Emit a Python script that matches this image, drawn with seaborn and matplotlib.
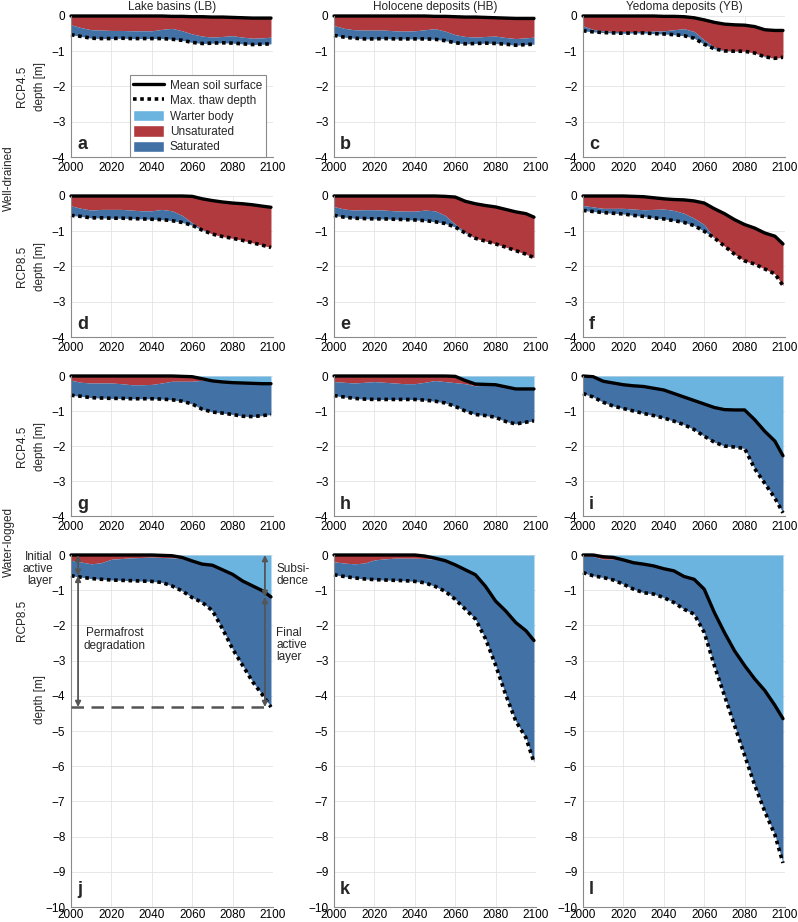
import matplotlib.pyplot as plt
import seaborn as sns
import pandas as pd
from matplotlib.lines import Line2D
from matplotlib.patches import Patch

# ---- data (depth in m) ----
years = [2000, 2005, 2010, 2015, 2020, 2025, 2030, 2035, 2040, 2045, 2050,
         2055, 2060, 2065, 2070, 2075, 2080, 2085, 2090, 2095, 2099]

column_titles = ["Lake basins (LB)", "Holocene deposits (HB)", "Yedoma deposits (YB)"]
row_labels = ["RCP4.5", "RCP8.5", "RCP4.5", "RCP8.5"]
panel_letters = ["a", "b", "c", "d", "e", "f", "g", "h", "i", "j", "k", "l"]

# well-drained, RCP4.5
surf_a = [0, 0, 0, 0, 0, 0, 0, 0, 0, 0, -0.01, -0.01, -0.02, -0.02, -0.03, -0.03, -0.04, -0.05, -0.06, -0.06, -0.06]
wt_a = [-0.25, -0.33, -0.39, -0.4, -0.41, -0.41, -0.42, -0.42, -0.42, -0.38, -0.35, -0.42, -0.51, -0.57, -0.6, -0.58, -0.56, -0.6, -0.63, -0.62, -0.6]
thaw_a = [-0.53, -0.58, -0.63, -0.64, -0.64, -0.63, -0.64, -0.64, -0.64, -0.64, -0.66, -0.69, -0.75, -0.78, -0.77, -0.76, -0.77, -0.79, -0.81, -0.8, -0.79]

surf_b = [0, 0, 0, 0, 0, 0, 0, 0, 0, 0, -0.01, -0.01, -0.02, -0.03, -0.03, -0.04, -0.05, -0.06, -0.07, -0.07, -0.07]
wt_b = [-0.27, -0.35, -0.39, -0.4, -0.4, -0.4, -0.42, -0.43, -0.42, -0.39, -0.36, -0.43, -0.53, -0.58, -0.6, -0.58, -0.57, -0.61, -0.64, -0.62, -0.6]
thaw_b = [-0.55, -0.6, -0.63, -0.65, -0.65, -0.64, -0.65, -0.65, -0.65, -0.65, -0.66, -0.7, -0.76, -0.79, -0.78, -0.77, -0.78, -0.8, -0.83, -0.81, -0.8]

surf_c = [0, 0, 0, 0, 0, 0, 0, 0, -0.01, -0.01, -0.02, -0.05, -0.11, -0.18, -0.23, -0.25, -0.26, -0.3, -0.39, -0.41, -0.41]
wt_c = [-0.28, -0.38, -0.42, -0.44, -0.44, -0.44, -0.44, -0.43, -0.42, -0.39, -0.36, -0.44, -0.68, -0.88, -0.98, -0.99, -1.0, -1.05, -1.14, -1.2, -1.17]
thaw_c = [-0.42, -0.45, -0.47, -0.48, -0.49, -0.48, -0.48, -0.5, -0.51, -0.53, -0.56, -0.63, -0.8, -0.93, -0.99, -1.0, -1.0, -1.05, -1.16, -1.2, -1.17]

# well-drained, RCP8.5
surf_d = [0, 0, 0, 0, 0, 0, 0, 0, 0, 0, 0, 0, -0.01, -0.08, -0.13, -0.17, -0.2, -0.22, -0.25, -0.29, -0.32]
wt_d = [-0.28, -0.35, -0.4, -0.38, -0.38, -0.38, -0.4, -0.42, -0.42, -0.38, -0.42, -0.55, -0.76, -0.95, -1.08, -1.15, -1.2, -1.26, -1.33, -1.4, -1.46]
thaw_d = [-0.55, -0.58, -0.62, -0.62, -0.63, -0.63, -0.64, -0.65, -0.66, -0.67, -0.7, -0.75, -0.83, -0.97, -1.08, -1.15, -1.2, -1.26, -1.33, -1.4, -1.46]

surf_e = [0, 0, 0, 0, 0, 0, 0, 0, 0, 0, 0, -0.01, -0.03, -0.15, -0.22, -0.27, -0.31, -0.38, -0.45, -0.5, -0.6]
wt_e = [-0.3, -0.37, -0.4, -0.39, -0.39, -0.4, -0.42, -0.43, -0.43, -0.4, -0.42, -0.55, -0.8, -1.02, -1.2, -1.28, -1.36, -1.45, -1.55, -1.65, -1.75]
thaw_e = [-0.55, -0.6, -0.63, -0.64, -0.65, -0.65, -0.66, -0.67, -0.68, -0.7, -0.73, -0.78, -0.88, -1.05, -1.2, -1.28, -1.36, -1.45, -1.55, -1.65, -1.75]

surf_f = [0, 0, 0, 0, 0, -0.01, -0.02, -0.05, -0.08, -0.1, -0.11, -0.14, -0.2, -0.36, -0.5, -0.67, -0.81, -0.91, -1.05, -1.14, -1.36]
wt_f = [-0.27, -0.31, -0.35, -0.35, -0.35, -0.37, -0.39, -0.38, -0.37, -0.41, -0.49, -0.63, -0.81, -1.19, -1.42, -1.65, -1.84, -1.93, -2.07, -2.21, -2.54]
thaw_f = [-0.41, -0.44, -0.47, -0.49, -0.51, -0.55, -0.58, -0.62, -0.65, -0.7, -0.75, -0.84, -1.0, -1.19, -1.42, -1.65, -1.84, -1.93, -2.07, -2.21, -2.54]

# water-logged, RCP4.5
surf_g = [0, 0, 0, 0, 0, 0, 0, 0, 0, 0, 0, -0.01, -0.02, -0.08, -0.14, -0.17, -0.19, -0.2, -0.21, -0.22, -0.22]
wt_g = [-0.12, -0.18, -0.2, -0.2, -0.2, -0.22, -0.25, -0.25, -0.24, -0.2, -0.15, -0.15, -0.15, -0.12, -0.14, -0.17, -0.19, -0.2, -0.21, -0.22, -0.22]
thaw_g = [-0.55, -0.58, -0.62, -0.63, -0.64, -0.64, -0.65, -0.65, -0.65, -0.66, -0.68, -0.72, -0.8, -0.95, -1.03, -1.06, -1.1, -1.15, -1.16, -1.13, -1.1]

surf_h = [0, 0, 0, 0, 0, 0, 0, 0, 0, 0, 0, 0, -0.01, -0.13, -0.23, -0.24, -0.25, -0.31, -0.37, -0.37, -0.37]
wt_h = [-0.16, -0.18, -0.2, -0.18, -0.16, -0.18, -0.2, -0.22, -0.22, -0.18, -0.13, -0.16, -0.19, -0.22, -0.28, -0.26, -0.25, -0.31, -0.37, -0.37, -0.37]
thaw_h = [-0.56, -0.6, -0.64, -0.66, -0.67, -0.67, -0.67, -0.67, -0.67, -0.69, -0.72, -0.77, -0.87, -1.0, -1.1, -1.13, -1.18, -1.3, -1.37, -1.32, -1.28]

surf_i = [0, -0.02, -0.15, -0.2, -0.25, -0.28, -0.3, -0.35, -0.4, -0.5, -0.6, -0.7, -0.8, -0.9, -0.96, -0.97, -0.97, -1.25, -1.58, -1.86, -2.28]
wt_i = [-0.03, -0.05, -0.15, -0.2, -0.25, -0.28, -0.3, -0.35, -0.4, -0.5, -0.6, -0.7, -0.8, -0.9, -0.96, -0.97, -0.97, -1.25, -1.58, -1.86, -2.28]
thaw_i = [-0.5, -0.6, -0.75, -0.86, -0.93, -1.0, -1.07, -1.13, -1.2, -1.29, -1.39, -1.53, -1.72, -1.89, -2.0, -2.03, -2.07, -2.65, -3.07, -3.49, -3.91]

# water-logged, RCP8.5
surf_j = [0, 0, 0, 0, 0, 0, 0, 0, 0, -0.01, -0.02, -0.07, -0.17, -0.26, -0.29, -0.42, -0.55, -0.74, -0.88, -1.02, -1.19]
wt_j = [-0.15, -0.2, -0.25, -0.22, -0.12, -0.1, -0.08, -0.07, -0.06, -0.07, -0.08, -0.1, -0.17, -0.26, -0.29, -0.42, -0.55, -0.74, -0.88, -1.02, -1.19]
thaw_j = [-0.59, -0.63, -0.67, -0.69, -0.71, -0.72, -0.73, -0.74, -0.75, -0.78, -0.88, -1.02, -1.21, -1.35, -1.58, -2.1, -2.67, -3.14, -3.61, -3.99, -4.32]

surf_k = [0, 0, 0, 0, 0, 0, 0, 0, 0, -0.03, -0.09, -0.16, -0.28, -0.42, -0.56, -0.89, -1.31, -1.59, -1.92, -2.15, -2.43]
wt_k = [-0.19, -0.23, -0.25, -0.23, -0.14, -0.11, -0.09, -0.09, -0.09, -0.1, -0.12, -0.16, -0.28, -0.42, -0.56, -0.89, -1.31, -1.59, -1.92, -2.15, -2.43]
thaw_k = [-0.56, -0.61, -0.65, -0.68, -0.7, -0.71, -0.72, -0.73, -0.75, -0.79, -0.89, -1.03, -1.26, -1.54, -1.82, -2.38, -3.13, -3.97, -4.72, -5.19, -5.89]

surf_l = [0, 0, -0.05, -0.07, -0.14, -0.22, -0.26, -0.31, -0.39, -0.45, -0.61, -0.69, -0.97, -1.63, -2.2, -2.72, -3.14, -3.52, -3.85, -4.27, -4.65]
wt_l = [-0.03, -0.04, -0.12, -0.12, -0.14, -0.22, -0.26, -0.31, -0.39, -0.45, -0.61, -0.69, -0.97, -1.63, -2.2, -2.72, -3.14, -3.52, -3.85, -4.27, -4.65]
thaw_l = [-0.5, -0.59, -0.64, -0.71, -0.83, -0.97, -1.07, -1.11, -1.21, -1.35, -1.54, -1.68, -2.2, -3.14, -3.99, -4.84, -5.69, -6.54, -7.29, -7.95, -8.75]

surfaces = [surf_a, surf_b, surf_c, surf_d, surf_e, surf_f, surf_g, surf_h, surf_i, surf_j, surf_k, surf_l]
water_tables = [wt_a, wt_b, wt_c, wt_d, wt_e, wt_f, wt_g, wt_h, wt_i, wt_j, wt_k, wt_l]
thaw_depths = [thaw_a, thaw_b, thaw_c, thaw_d, thaw_e, thaw_f, thaw_g, thaw_h, thaw_i, thaw_j, thaw_k, thaw_l]

# ---- style ----
WATER = "#6cb4e0"
UNSAT = "#b03a3e"
SAT = "#4271a6"
ARROW = "#555555"

sns.set_style("whitegrid", {"grid.color": "#e4e4e4", "axes.edgecolor": "#8a8a8a"})
plt.rcParams["font.family"] = ["Liberation Sans", "DejaVu Sans"]
plt.rcParams["font.size"] = 8.5

fig = plt.figure(figsize=(7.98, 9.22), dpi=100)
W, H = 798.0, 922.0
col_left = [71, 334, 583]
ax_w = 202
row_top = [16, 196, 376, 555]
row_h = [141, 141, 140, 352]
row_ymin = [-4, -4, -4, -10]
row_xpad = [3.5, 3.5, 3.5, 1.5]

axes = []
for r in range(4):
    for c in range(3):
        k = r * 3 + c
        ax = fig.add_axes([col_left[c] / W, 1 - (row_top[r] + row_h[r]) / H,
                           ax_w / W, row_h[r] / H])
        axes.append(ax)
        df = pd.DataFrame({"year": years, "surface": surfaces[k],
                           "water_table": water_tables[k], "thaw": thaw_depths[k]})
        waterlogged = r >= 2
        if waterlogged:
            ax.fill_between(df["year"], 0, df["surface"], color=WATER, lw=0)
        ax.fill_between(df["year"], df["surface"], df["water_table"], color=UNSAT, lw=0)
        ax.fill_between(df["year"], df["water_table"], df["thaw"], color=SAT, lw=0)
        sns.lineplot(data=df, x="year", y="surface", ax=ax, color="black",
                     lw=2.4, legend=False, clip_on=False)
        sns.lineplot(data=df, x="year", y="thaw", ax=ax, color="black",
                     lw=2.6, ls=(0, (1, 1)), legend=False, clip_on=False)

        ax.set_xlim(2000, 2100)
        ax.set_ylim(row_ymin[r], 0)
        ax.set_xticks(range(2000, 2101, 20))
        ax.set_yticks(range(row_ymin[r], 1))
        ax.set_xlabel("")
        ax.set_ylabel("")
        ax.grid(True, lw=0.6)
        for side in ["top", "right"]:
            ax.spines[side].set_visible(False)
        for side in ["left", "bottom"]:
            ax.spines[side].set_linewidth(0.8)
        ax.tick_params(axis="x", length=0, pad=row_xpad[r], labelsize=8.5, colors="black")
        ax.tick_params(axis="y", length=0, pad=4, labelsize=8.5, colors="black")
        ax.text(0.03, 0.025, panel_letters[k], transform=ax.transAxes,
                fontsize=13, fontweight="bold", va="bottom", ha="left")
        if r == 0:
            ax.set_title(column_titles[c], fontsize=8.5, pad=4)

# row labels
for r in range(3):
    yc = 1 - (row_top[r] + row_h[r] / 2) / H
    fig.text(22 / W, yc, row_labels[r], rotation=90, ha="center", va="center", fontsize=8.5)
    fig.text(40 / W, yc, "depth [m]", rotation=90, ha="center", va="center", fontsize=8.5)
fig.text(22 / W, 1 - 620 / H, row_labels[3], rotation=90, ha="center", va="center", fontsize=8.5)
fig.text(40 / W, 1 - 700 / H, "depth [m]", rotation=90, ha="center", va="center", fontsize=8.5)
fig.text(9 / W, 1 - 178 / H, "Well-drained", rotation=90, ha="center", va="center", fontsize=8.5)
fig.text(9 / W, 1 - 542 / H, "Water-logged", rotation=90, ha="center", va="center", fontsize=8.5)

# legend in panel a
handles = [Line2D([], [], color="black", lw=2.4),
           Line2D([], [], color="black", lw=2.6, ls=(0, (1, 1))),
           Patch(facecolor=WATER), Patch(facecolor=UNSAT), Patch(facecolor=SAT)]
labels = ["Mean soil surface", "Max. thaw depth", "Warter body", "Unsaturated", "Saturated"]
leg = axes[0].legend(handles, labels, loc="upper left", bbox_to_anchor=(0.29, 0.58),
                     fontsize=8.5, frameon=True, fancybox=False, handlelength=2.6,
                     handleheight=1.15, labelspacing=0.22, borderpad=0.3,
                     handletextpad=0.5, borderaxespad=0)
leg.get_frame().set_edgecolor("#8a8a8a")
leg.get_frame().set_linewidth(0.8)
leg.get_frame().set_alpha(1)

# annotations in panel j
axj = axes[9]
base = thaw_j[-1]
x_left, x_right = 2003.5, 2096
axj.plot([2000, years[-1]], [base, base], color=ARROW, lw=1.8, ls=(0, (5, 3)), zorder=5)
arrow_kw = dict(arrowstyle="<|-|>", color=ARROW, lw=1.3, mutation_scale=8,
                shrinkA=0, shrinkB=0)
axj.annotate("", xy=(x_left, 0), xytext=(x_left, thaw_j[0]), arrowprops=arrow_kw, zorder=6)
axj.annotate("", xy=(x_left, thaw_j[0]), xytext=(x_left, base), arrowprops=arrow_kw, zorder=6)
axj.annotate("", xy=(x_right, 0), xytext=(x_right, surf_j[-1]), arrowprops=arrow_kw, zorder=6)
axj.annotate("", xy=(x_right, surf_j[-1]), xytext=(x_right, base), arrowprops=arrow_kw, zorder=6)
axj.text(2021.5, -2.4, "Permafrost\ndegradation", ha="center", va="center",
         fontsize=8.5, linespacing=1.1)
axj.text(1991, -0.4, "Initial\nactive\nlayer", ha="right", va="center",
         fontsize=8.5, linespacing=1.0, clip_on=False)
axj.text(2101.5, -0.57, "Subsi-\ndence", ha="left", va="center",
         fontsize=8.5, linespacing=1.0, clip_on=False)
axj.text(2101.5, -2.57, "Final\nactive\nlayer", ha="left", va="center",
         fontsize=8.5, linespacing=1.0, clip_on=False)

fig.savefig("out.png", dpi=100)
